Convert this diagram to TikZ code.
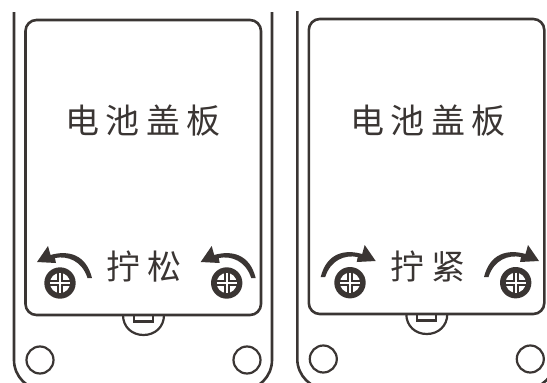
\documentclass[tikz,border=0pt]{standalone}
\usepackage{fontspec}
\newfontfamily\cjk{Noto Sans CJK SC}
\definecolor{ink}{HTML}{3A3533}
\tikzset{
  line/.style={draw=ink,line width=2.6pt},
  thin line/.style={draw=ink,line width=2.2pt},
  label/.style={text=ink,font=\fontsize{34pt}{34pt}\cjk,inner sep=0pt,anchor=center},
  pics/screw/.style={code={
    \fill[ink] (0,0) circle (15.7);
    \fill[white] (0,0) circle (10);
    \draw[ink,line width=6pt] (-12,0)--(12,0) (0,-12)--(0,12);
    \draw[white,line width=2pt] (-10,0)--(10,0) (0,-10)--(0,10);
  }},
  pics/turnarrow/.style={code={
    \fill[ink] (0,0) -- (11,-16) -- (13.5,-7) .. controls (31,-12) and (49,-8) .. (55,16)
      -- (50.5,16) .. controls (45,-1) and (31,-6.5) .. (18,-4) -- (19,1) -- cycle;
  }},
  pics/panel/.style={code={
    \draw[line,rounded corners=30] (14,12) -- (14,390) -- (272,390) -- (272,12);
    \draw[thin line] (123,315) .. controls (123,327) and (132,335) .. (143.5,335) .. controls (155,335) and (164,327) .. (164,315);
    \draw[thin line] (134,315) -- (134,321.5) -- (153,321.5) -- (153,315);
    \draw[line,rounded corners=11] (25.5,20) -- (261,20) -- (261,315) -- (25.5,315) -- cycle;
    \draw[thin line] (40,360) circle (13.5);
    \draw[thin line] (247,360) circle (13.5);
  }}
}
\begin{document}
\begin{tikzpicture}[x=1pt,y=-1pt]
\useasboundingbox (0,0) rectangle (547,383);
\clip (0,0) rectangle (547,383);
\path (0,0) pic {panel};
\path (283.3,-1) pic {panel};
\node[label] (cover1) at (143,121) {电\kern6.5pt 池\kern6.5pt 盖\kern6.5pt 板};
\node[label] (cover2) at (428,121) {电\kern6.5pt 池\kern6.5pt 盖\kern6.5pt 板};
\node[label] (loosen) at (144,267) {拧\kern6.5pt 松};
\node[label] (tighten) at (428,266) {拧\kern6.5pt 紧};
\path (60,283) pic {screw};
\path (226.7,283) pic {screw};
\path (350,282.7) pic {screw};
\path (515.7,282.7) pic {screw};
\path (37,262) pic {turnarrow};
\path (200.7,262) pic {turnarrow};
\path (375.7,261) pic[xscale=-1] {turnarrow};
\path (539,261) pic[xscale=-1] {turnarrow};
\end{tikzpicture}
\end{document}
